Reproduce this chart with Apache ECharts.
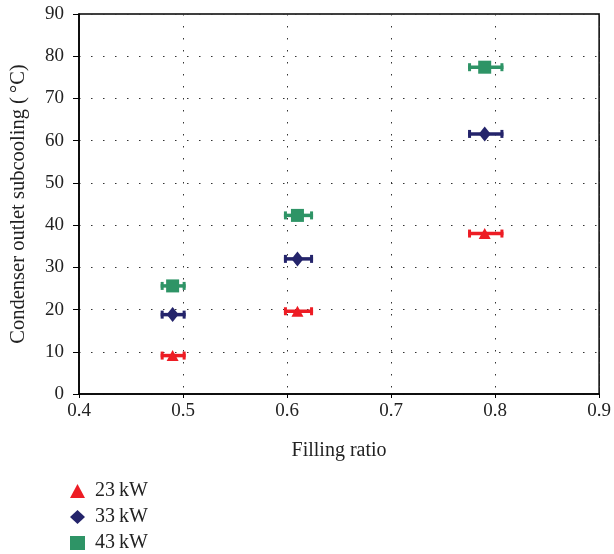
<!DOCTYPE html>
<html>
<head>
<meta charset="utf-8">
<script src="https://cdn.jsdelivr.net/npm/echarts@6/dist/echarts.min.js"></script>
<style>
  html, body { margin: 0; padding: 0; background: #fff; }
  #chart { width: 614px; height: 554px; }
</style>
</head>
<body>
<div id="chart"></div>
<script>
// Filling ratio of each test point
const fillRatio = [0.49, 0.61, 0.79];
// Horizontal uncertainty range of the filling ratio
const fillLow  = [0.4785, 0.597, 0.774];
const fillHigh = [0.5025, 0.625, 0.808];

// Condenser outlet subcooling (°C) for each heat load
const sub23 = [9.1, 19.6, 38.0];
const sub33 = [18.8, 32.0, 61.6];
const sub43 = [25.6, 42.3, 77.4];

const seriesNames = ['23\u2009kW', '33\u2009kW', '43\u2009kW'];
const seriesColors = ['#ed1c24', '#24246b', '#2e9466'];
const seriesSymbols = ['triangle', 'diamond', 'rect'];
const symbolSizes = [[12, 11], [12, 15], [13, 13]];
const seriesValues = [sub23, sub33, sub43];

const xTicks = [0.4, 0.5, 0.6, 0.7, 0.8, 0.9];
const yTicks = [0, 10, 20, 30, 40, 50, 60, 70, 80, 90];

const serif = '"Liberation Serif", "DejaVu Serif", serif';

function errorBarRender(color) {
  return function (params, api) {
    const y = api.value(1);
    const lo = api.coord([api.value(2), y]);
    const hi = api.coord([api.value(3), y]);
    const capH = 8, capW = 3;
    return {
      type: 'group',
      children: [
        { type: 'line', shape: { x1: lo[0], y1: lo[1], x2: hi[0], y2: hi[1] },
          style: { stroke: color, lineWidth: 3.5 } },
        { type: 'rect', shape: { x: lo[0], y: lo[1] - capH / 2, width: capW, height: capH },
          style: { fill: color } },
        { type: 'rect', shape: { x: hi[0] - capW, y: hi[1] - capH / 2, width: capW, height: capH },
          style: { fill: color } }
      ]
    };
  };
}

const series = [];
seriesValues.forEach(function (vals, i) {
  series.push({
    name: 'err' + i,
    type: 'custom',
    renderItem: errorBarRender(seriesColors[i]),
    data: fillRatio.map(function (x, k) { return [x, vals[k], fillLow[k], fillHigh[k]]; }),
    encode: { x: [0, 2, 3], y: 1 },
    z: 2,
    silent: true
  });
});
seriesValues.forEach(function (vals, i) {
  series.push({
    name: seriesNames[i],
    type: 'scatter',
    symbol: seriesSymbols[i],
    symbolSize: symbolSizes[i],
    itemStyle: { color: seriesColors[i], opacity: 1 },
    data: fillRatio.map(function (x, k) { return [x, vals[k]]; }),
    z: 3
  });
});

// One legend block per heat load, stacked under the plot
const legendCenters = [490, 516, 542];
const legends = seriesNames.map(function (name, i) {
  return {
    data: [name],
    orient: 'vertical',
    left: 70,
    top: legendCenters[i] - 9,
    padding: 0,
    itemWidth: 15,
    itemHeight: 14,
    textStyle: { fontFamily: serif, fontSize: 20, color: '#222', padding: [0, 0, 0, 5] }
  };
});

const chart = echarts.init(document.getElementById('chart'), null, { renderer: 'canvas' });
chart.setOption({
  animation: false,
  backgroundColor: '#fff',
  grid: {
    left: 78, right: 14, top: 14, bottom: 160,
    show: true, borderColor: '#000', borderWidth: 1.5, backgroundColor: 'transparent'
  },
  legend: legends,
  xAxis: {
    type: 'value',
    min: 0.4, max: 0.9, interval: 0.1,
    name: 'Filling ratio',
    nameLocation: 'middle',
    nameGap: 47,
    nameTextStyle: { fontFamily: serif, fontSize: 20, color: '#222' },
    axisLine: { show: true, lineStyle: { color: '#000', width: 1.5 } },
    axisTick: { show: true, inside: false, length: 4, lineStyle: { color: '#000' } },
    axisLabel: {
      margin: 8, fontFamily: serif, fontSize: 19, color: '#222',
      formatter: function (v) { return v.toFixed(1); }
    },
    splitLine: { show: true, lineStyle: { color: '#333', width: 1, type: [1.5, 10.5] } }
  },
  yAxis: {
    type: 'value',
    min: 0, max: 90, interval: 10,
    name: 'Condenser outlet subcooling (\u2009°C)',
    nameLocation: 'middle',
    nameGap: 50,
    nameTextStyle: { fontFamily: serif, fontSize: 20.5, color: '#222' },
    axisLine: { show: true, lineStyle: { color: '#000', width: 1.5 } },
    axisTick: { show: true, inside: false, length: 6, lineStyle: { color: '#000' } },
    axisLabel: { margin: 15, fontFamily: serif, fontSize: 19, color: '#222' },
    splitLine: { show: true, lineStyle: { color: '#333', width: 1, type: [1.5, 10.5] } }
  },
  series: series
});
</script>
</body>
</html>
